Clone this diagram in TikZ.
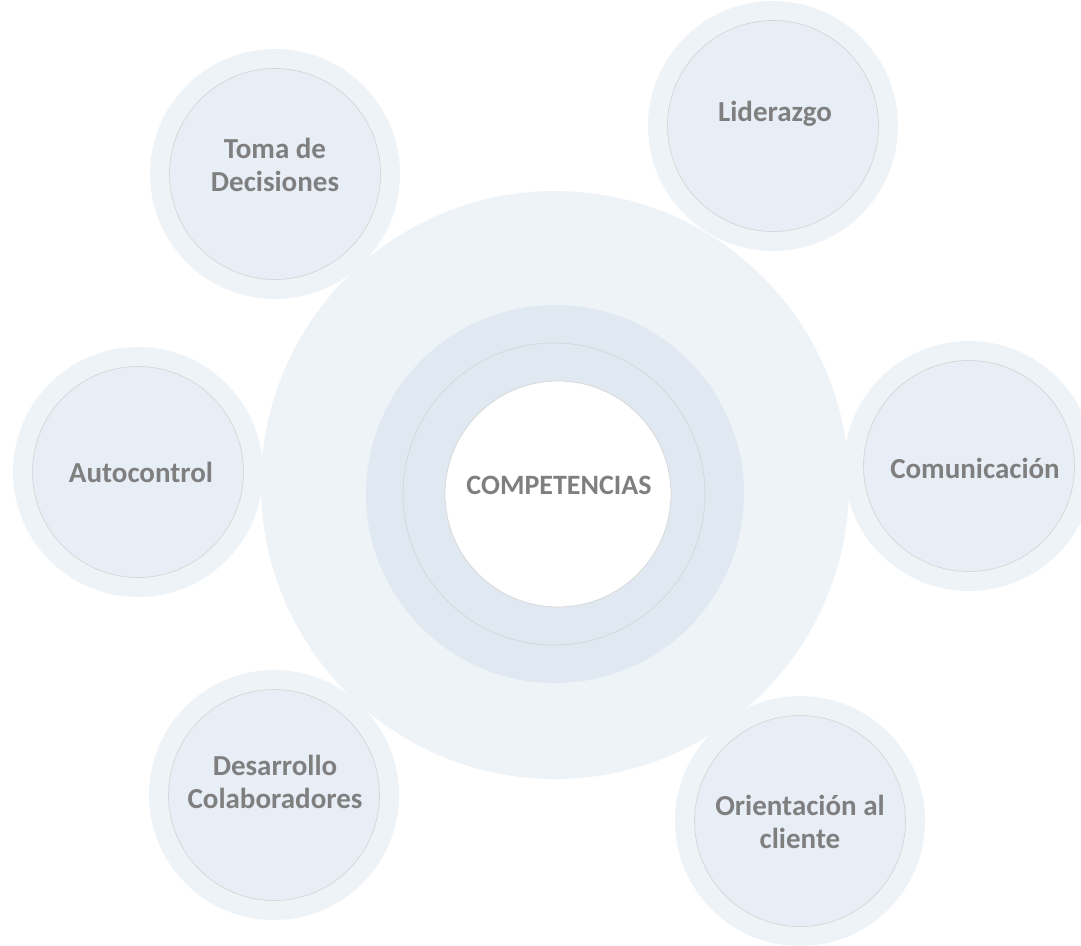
\documentclass[tikz,border=0pt]{standalone}
\usepackage{fontspec}
\setmainfont{Carlito}
\definecolor{haloblue}{HTML}{EEF3F8}
\definecolor{discblue}{HTML}{E8EEF6}
\definecolor{bandblue}{HTML}{E0E8F2}
\definecolor{rimgray}{HTML}{D6D6D6}
\definecolor{labelgray}{HTML}{7F7F7F}

\begin{document}
\begin{tikzpicture}[x=1pt,y=-1pt,
        halo/.style={circle,fill=haloblue,inner sep=0pt,minimum size=250pt},
        disc/.style={circle,draw=rimgray,line width=0.7pt,fill=discblue,inner sep=0pt,minimum size=211pt},
        lbl/.style={text=labelgray,font=\fontsize{29}{33}\selectfont\bfseries,align=center}]
        \useasboundingbox (0,0) rectangle (1081,945);
        % centre
        \node[circle,fill=haloblue,inner sep=0pt,minimum size=588pt] (core) at (555,485) {};
        \node[circle,fill=bandblue,inner sep=0pt,minimum size=378pt] (band) at (555,494) {};
        \node[circle,draw=rimgray,line width=0.7pt,inner sep=0pt,minimum size=302pt] (rim) at (554,494) {};
        \node[circle,draw=rimgray,line width=0.7pt,fill=white,inner sep=0pt,minimum size=226pt] (hub) at (558,494) {};
        \node[lbl,font=\fontsize{28}{33}\selectfont\bfseries] (hub-txt) at ([shift={(1,-9)}]hub.center) {COMPETENCIAS};
        % satellites
        \foreach \n/\x/\y/\dx/\dy/\t in {
            toma/275/174/0/-9/{Toma de\\Decisiones},
            lider/773/126/2/-12/{Liderazgo},
            auto/138/472/3/0/{Autocontrol},
            comun/969/466/6/2/{Comunicación},
            desar/274/795/1/-13/{Desarrollo\\Colaboradores},
            orient/800/821/0/1/{Orientación al\\cliente}}{
            \node[halo] (\n-halo) at (\x,\y) {};
            \node[disc] (\n) at (\x,\y) {};
            \node[lbl] (\n-txt) at ([shift={(\dx,\dy)}]\n.center) {\t};
        }
    \end{tikzpicture}
\end{document}
